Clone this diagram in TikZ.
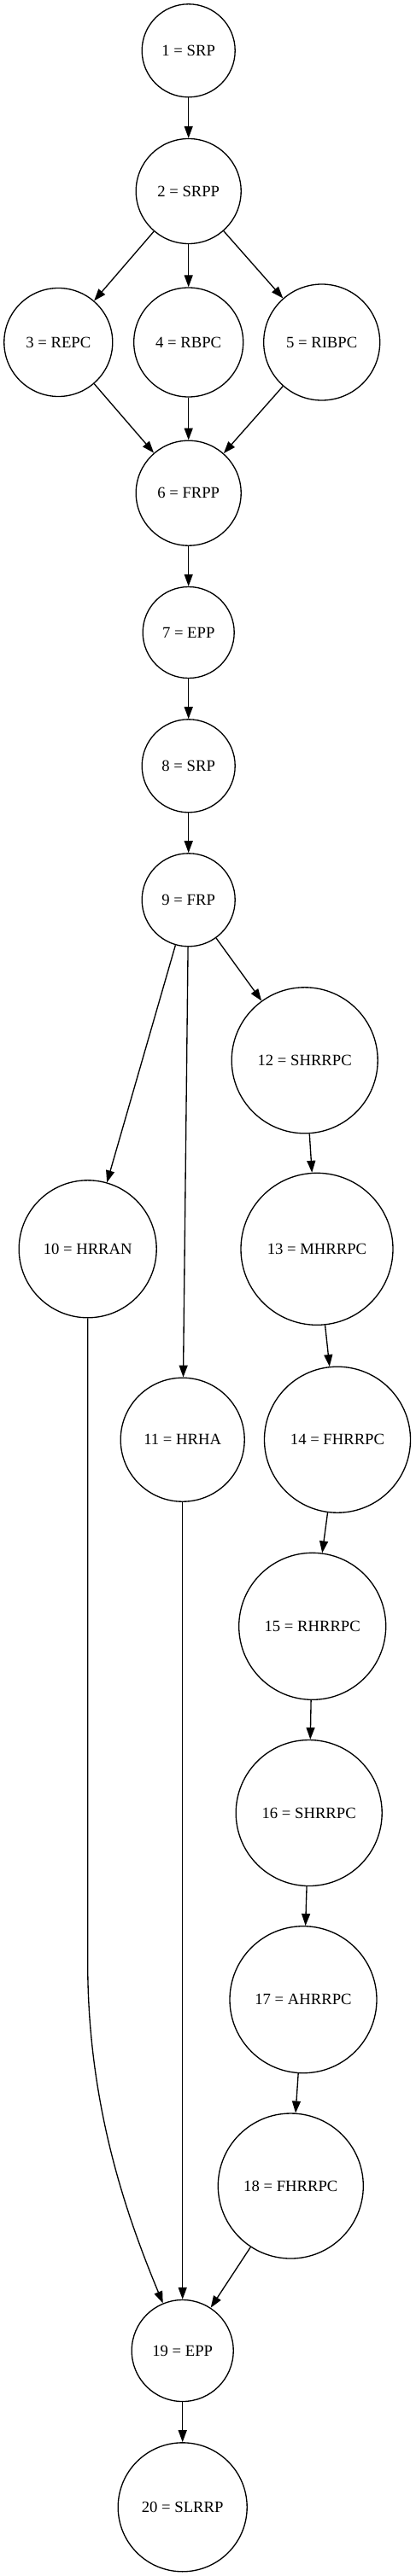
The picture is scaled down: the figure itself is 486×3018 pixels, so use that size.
\documentclass[tikz,border=0pt]{standalone}
\usepackage{fontspec}
\setmainfont{Liberation Serif}
\usepackage{tikz}
\usetikzlibrary{shapes,arrows.meta}

\begin{document}
\begin{tikzpicture}[x=0.75pt,y=-0.75pt,
    state/.style={circle,draw,line width=1pt,inner sep=0pt,
        minimum size=#1*0.75pt,font=\fontsize{14}{17}\selectfont},
    edge/.style={line width=1pt,-{Triangle[length=10.5pt,width=7.5pt]}}]
    \useasboundingbox (0,0) rectangle (486,3018);
    % Draw the states
    \foreach \n/\x/\y/\d/\t in {
        1/220.7/59.3/109/SRP, 2/220.7/224/123/SRPP,
        3/68.3/401/127/REPC, 4/220.7/401/128/RBPC, 5/376.7/401/136/RIBPC,
        6/220.7/577.7/123/FRPP, 7/220.7/741/107/EPP,
        8/220.7/897.3/109/SRP, 9/220.7/1054.3/109/FRP,
        10/102.7/1463.3/161/HRRAN, 11/213.7/1686.7/145/HRHA,
        12/356.7/1242.3/171/SHRRPC, 13/371/1463.3/178/MHRRPC,
        14/395/1686.7/171/FHRRPC, 15/365.7/1905.3/172/RHRRPC,
        16/361.7/2124/171/SHRRPC, 17/355/2342.7/172/AHRRPC,
        18/340.3/2561/170/FHRRPC, 19/213.7/2754/119/EPP,
        20/213.7/2937.3/151/SLRRP}
        \node [state=\d] (n\n) at (\x,\y) {\n{} = \t};

    % Draw the transitions
    \foreach \a/\b in {1/2,2/3,2/4,2/5,3/6,4/6,5/6,6/7,7/8,8/9,
        9/10,9/11,9/12,12/13,13/14,14/15,15/16,16/17,17/18,
        11/19,18/19,19/20}
        \draw [edge] (n\a) -- (n\b);

    % HRRAN goes down the left side
    \coordinate (c10) at (102.7,2300);
    \draw [edge] (n10) -- (c10) .. controls (102.7,2470) and (150,2600) .. (n19);

\end{tikzpicture}
\end{document}
